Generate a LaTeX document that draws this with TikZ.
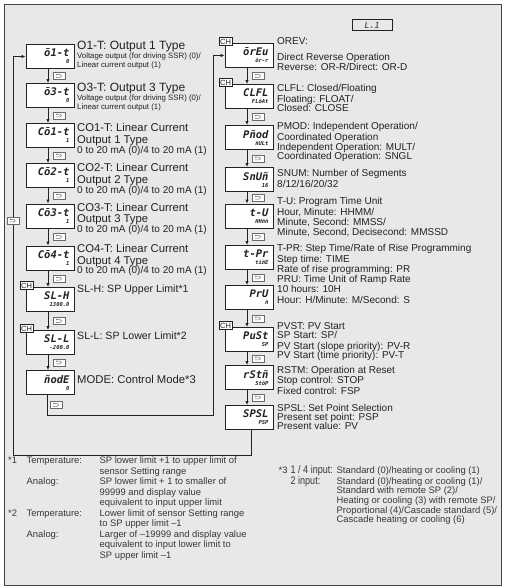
\documentclass[tikz,border=0pt]{standalone}
\usepackage{fontspec}
\setmainfont{Liberation Sans}
\newfontfamily\segfont{DejaVu Sans Mono}
\newfontfamily\narrowfont[FakeStretch=0.82]{Liberation Sans}
\usepackage{xcolor}
\usepackage{tikz}
\usetikzlibrary{arrows.meta}
\definecolor{panelgray}{HTML}{E7E8EA}
\definecolor{inkgray}{HTML}{222222}
\definecolor{keygray}{HTML}{6A6A6A}
\newcommand{\segdisp}[2]{{\fontsize{10.5}{7}\selectfont #1}\\#2}
\newcommand{\subf}{\fontsize{7.8}{9}\selectfont}
\newcommand{\rangef}{\fontsize{10}{9.8}\selectfont}

\begin{document}
\begin{tikzpicture}[
    x=1pt,y=-1pt,
    disp/.style  = {draw=inkgray, fill=white, line width=0.9pt,
                    minimum width=48pt, minimum height=24pt, inner sep=0pt,
                    text width=39pt, align=right, text=inkgray,
                    font=\segfont\bfseries\itshape\fontsize{5.5}{7}\selectfont},
    chtag/.style = {draw=inkgray, fill=white, line width=0.7pt, text=inkgray,
                    font=\fontsize{7.5}{7.5}\selectfont, inner sep=0.5pt,
                    minimum width=13pt, minimum height=8pt},
    desc/.style  = {anchor=north west, inner sep=0pt, align=left, text=inkgray,
                    font=\fontsize{10}{10.4}\selectfont},
    note/.style  = {anchor=north west, inner sep=0pt, text=inkgray!90,
                    font=\fontsize{9.4}{10.5}\selectfont},
    flow/.style  = {-{Latex[length=4pt,width=3.4pt]}, draw=inkgray, line width=0.8pt},
    keyc/.style  = {draw=keygray, fill=white, line width=0.6pt, minimum width=12pt,
                    minimum height=7pt, inner sep=0pt,
                    path picture={\draw[keygray,line width=0.5pt,-{Latex[length=1.4pt,width=1.6pt]}]
                      ([xshift=-3.5pt,yshift=-1.3pt]path picture bounding box.center)
                      -- ++(4.5pt,0pt) arc[start angle=-90,end angle=90,radius=1.3pt]
                      -- ++(-4.5pt,0pt);}},
    keyb/.style  = {keyc, anchor=west, xshift=5pt},
  ]

  \useasboundingbox (0,0) rectangle (504,587);
  \draw[inkgray!85, line width=1pt, fill=panelgray] (4,4) rectangle (501,585);

  \node[draw=inkgray, line width=0.8pt, minimum width=40pt, minimum height=11pt,
        inner sep=0pt, text=inkgray!70,
        font=\segfont\bfseries\itshape\fontsize{8.5}{8.5}\selectfont] (tabl) at (372,25) {L.1};

  % left column
  \node[disp] (o1t)  at (50,56.5)  {\segdisp{ō1-t}{0}};
  \node[disp] (o3t)  at (50,95.5)  {\segdisp{ō3-t}{0}};
  \node[disp] (co1t) at (50,135.5) {\segdisp{Cō1-t}{1}};
  \node[disp] (co2t) at (50,175.5) {\segdisp{Cō2-t}{1}};
  \node[disp] (co3t) at (50,216)   {\segdisp{Cō3-t}{1}};
  \node[disp] (co4t) at (50,258)   {\segdisp{Cō4-t}{1}};
  \node[disp] (slh)  at (50,299.5) {\segdisp{SL-H}{1300.0}};
  \node[disp] (sll)  at (50,342.5) {\segdisp{SL-L}{-200.0}};
  \node[disp] (mode) at (50,382.5) {\segdisp{ñodE}{0}};

  \node[chtag] (slhch) at ([xshift=1pt,yshift=1.5pt]slh.north west) {CH};
  \node[chtag] (sllch) at ([xshift=1pt,yshift=1.5pt]sll.north west) {CH};

  % right column
  \node[disp] (orev) at (249,55.5)  {\segdisp{ōrEu}{ōr-r}};
  \node[disp] (clfl) at (249,96.5)  {\segdisp{CLFL}{FLōAt}};
  \node[disp] (pmod) at (249,137.5) {\segdisp{Pñod}{ñULt}};
  \node[disp] (snum) at (249,179.5) {\segdisp{SnUñ}{16}};
  \node[disp] (tu)   at (249,216)   {\segdisp{t-U}{HHññ}};
  \node[disp] (tpr)  at (249,257.5) {\segdisp{t-Pr}{tiñE}};
  \node[disp] (pru)  at (249,297.5) {\segdisp{PrU}{ñ}};
  \node[disp] (pvst) at (249,339.5) {\segdisp{PuSt}{SP}};
  \node[disp] (rstm) at (249,377.5) {\segdisp{rStñ}{StōP}};
  \node[disp] (spsl) at (249,417.5) {\segdisp{SPSL}{PSP}};

  \node[chtag] (orevch) at ([xshift=1pt,yshift=1.5pt]orev.north west) {CH};
  \node[chtag] (clflch) at ([xshift=1pt,yshift=1.5pt]clfl.north west) {CH};
  \node[chtag] (pvstch) at ([xshift=1pt,yshift=1.5pt]pvst.north west) {CH};

  % key steps
  \draw[flow] ([xshift=-2pt]o1t.south)  -- node[keyb] {} ([xshift=-2pt]o3t.north);
  \draw[flow] ([xshift=-2pt]o3t.south)  -- node[keyb] {} ([xshift=-2pt]co1t.north);
  \draw[flow] ([xshift=-2pt]co1t.south) -- node[keyb] {} ([xshift=-2pt]co2t.north);
  \draw[flow] ([xshift=-2pt]co2t.south) -- node[keyb] {} ([xshift=-2pt]co3t.north);
  \draw[flow] ([xshift=-2pt]co3t.south) -- node[keyb] {} ([xshift=-2pt]co4t.north);
  \draw[flow] ([xshift=-2pt]co4t.south) -- node[keyb] {} ([xshift=-2pt]slh.north);
  \draw[flow] ([xshift=-2pt]slh.south)  -- node[keyb] {} ([xshift=-2pt]sll.north);
  \draw[flow] ([xshift=-2pt]sll.south)  -- node[keyb] {} ([xshift=-2pt]mode.north);

  \draw[flow] ([xshift=-2pt]orev.south) -- node[keyb] {} ([xshift=-2pt]clfl.north);
  \draw[flow] ([xshift=-2pt]clfl.south) -- node[keyb] {} ([xshift=-2pt]pmod.north);
  \draw[flow] ([xshift=-2pt]pmod.south) -- node[keyb] {} ([xshift=-2pt]snum.north);
  \draw[flow] ([xshift=-2pt]snum.south) -- node[keyb] {} ([xshift=-2pt]tu.north);
  \draw[flow] ([xshift=-2pt]tu.south)   -- node[keyb] {} ([xshift=-2pt]tpr.north);
  \draw[flow] ([xshift=-2pt]tpr.south)  -- node[keyb] {} ([xshift=-2pt]pru.north);
  \draw[flow] ([xshift=-2pt]pru.south)  -- node[keyb] {} ([xshift=-2pt]pvst.north);
  \draw[flow] ([xshift=-2pt]pvst.south) -- node[keyb] {} ([xshift=-2pt]rstm.north);
  \draw[flow] ([xshift=-2pt]rstm.south) -- node[keyb] {} ([xshift=-2pt]spsl.north);

  % return loops
  \coordinate (innerturn) at (213,415);
  \coordinate (outerturn) at (13,455);
  \draw[flow] ([xshift=-3pt]mode.south) |- node[keyb,pos=0.25,xshift=-2pt] {} (innerturn) |- (orev.west);
  \draw[flow] ([xshift=2pt]spsl.south) |- (outerturn) |- node[keyc,pos=0.294] {} (o1t.west);

  % left texts
  \node[desc, font=\fontsize{12}{9}\selectfont] (o1ttxt) at (77,40.5)
       {O1-T: Output 1 Type\\{\subf Voltage output (for driving SSR) (0)/}\\{\subf Linear current output (1)}};
  \node[desc, font=\fontsize{12}{9}\selectfont] (o3ttxt) at (77,83.3)
       {O3-T: Output 3 Type\\{\subf Voltage output (for driving SSR) (0)/}\\{\subf Linear current output (1)}};
  \node[desc, font=\fontsize{11.3}{9.8}\selectfont] (co1ttxt) at (77,123.3)
       {CO1-T: Linear Current\\[1.9pt]Output 1 Type\\{\rangef 0 to 20 mA (0)/4 to 20 mA (1)}};
  \node[desc, font=\fontsize{11.3}{9.8}\selectfont] (co2ttxt) at (77,163.3)
       {CO2-T: Linear Current\\[1.9pt]Output 2 Type\\{\rangef 0 to 20 mA (0)/4 to 20 mA (1)}};
  \node[desc, font=\fontsize{11.3}{9.8}\selectfont] (co3ttxt) at (77,202.7)
       {CO3-T: Linear Current\\[1.9pt]Output 3 Type\\{\rangef 0 to 20 mA (0)/4 to 20 mA (1)}};
  \node[desc, font=\fontsize{11.3}{9.8}\selectfont] (co4ttxt) at (77,244)
       {CO4-T: Linear Current\\[1.9pt]Output 4 Type\\{\rangef 0 to 20 mA (0)/4 to 20 mA (1)}};
  \node[desc, font=\fontsize{10.6}{10}\selectfont] (slhtxt) at (77,284.3) {SL-H: SP Upper Limit*1};
  \node[desc, font=\fontsize{10.6}{10}\selectfont] (slltxt) at (77,331.7) {SL-L: SP Lower Limit*2};
  \node[desc, font=\fontsize{11.3}{10}\selectfont] (modetxt) at (77,375) {MODE: Control Mode*3};

  % right texts
  \node[desc] (orevtxt) at (277,37.7)
       {OREV:\\[5pt]Direct Reverse Operation\\Reverse: OR-R/Direct: OR-D};
  \node[desc] (clfltxt) at (277,84.3)
       {CLFL: Closed/Floating\\Floating: FLOAT/\\[-1pt]Closed: CLOSE};
  \node[desc] (pmodtxt) at (277,122.3)
       {PMOD: Independent Operation/\\Coordinated Operation\\Independent Operation: MULT/\\[-1.6pt]Coordinated Operation: SNGL};
  \node[desc] (snumtxt) at (277,169.5) {SNUM: Number of Segments\\8/12/16/20/32};
  \node[desc] (tutxt) at (277,197.3)
       {T-U: Program Time Unit\\Hour, Minute: HHMM/\\Minute, Second: MMSS/\\Minute, Second, Decisecond: MMSSD};
  \node[desc] (tprtxt) at (277,244.5)
       {T-PR: Step Time/Rate of Rise Programming\\Step time: TIME\\[-0.4pt]Rate of rise programming: PR};
  \node[desc] (prutxt) at (277,274.8)
       {PRU: Time Unit of Ramp Rate\\10 hours: 10H\\Hour: H/Minute: M/Second: S};
  \node[desc] (pvsttxt) at (277,322.3)
       {PVST: PV Start\\[-1.2pt]SP Start: SP/\\PV Start (slope priority): PV-R\\[-0.6pt]PV Start (time priority): PV-T};
  \node[desc] (rstmtxt) at (277,366)
       {RSTM: Operation at Reset\\Stop control: STOP\\Fixed control: FSP};
  \node[desc] (spsltxt) at (277,404)
       {SPSL: Set Point Selection\\[-1.2pt]Present set point: PSP\\[-1.4pt]Present value: PV};

  % footnotes
  \node[note] (fn12) at (8,456) {\begin{tabular}{@{}p{18.5pt}@{}p{73pt}@{}l@{}}
    {*}1 & Temperature: & SP lower limit +1 to upper limit of\\
       &              & sensor Setting range\\
       & Analog:      & SP lower limit + 1 to smaller of\\
       &              & 99999 and display value\\
       &              & equivalent to input upper limit\\
    {*}2 & Temperature: & Lower limit of sensor Setting range\\
       &              & to SP upper limit --1\\
       & Analog:      & Larger of --19999 and display value\\
       &              & equivalent to input lower limit to\\
       &              & SP upper limit --1
  \end{tabular}};
  \node[note, font=\fontsize{9.4}{9.6}\selectfont] (fn3) at (278.5,465) {\begin{tabular}{@{}p{12pt}@{}p{46pt}@{}l@{}}
    {*}3 & {\narrowfont\fontsize{11}{9.6}\selectfont 1 / 4 input:} & Standard (0)/heating or cooling (1)\\
       & {\narrowfont\fontsize{11}{9.6}\selectfont 2 input:}     & Standard (0)/heating or cooling (1)/\\
       &                                                          & Standard with remote SP (2)/\\
       &                                                          & Heating or cooling (3) with remote SP/\\
       &                                                          & Proportional (4)/Cascade standard (5)/\\
       &                                                          & Cascade heating or cooling (6)
  \end{tabular}};

\end{tikzpicture}
\end{document}
